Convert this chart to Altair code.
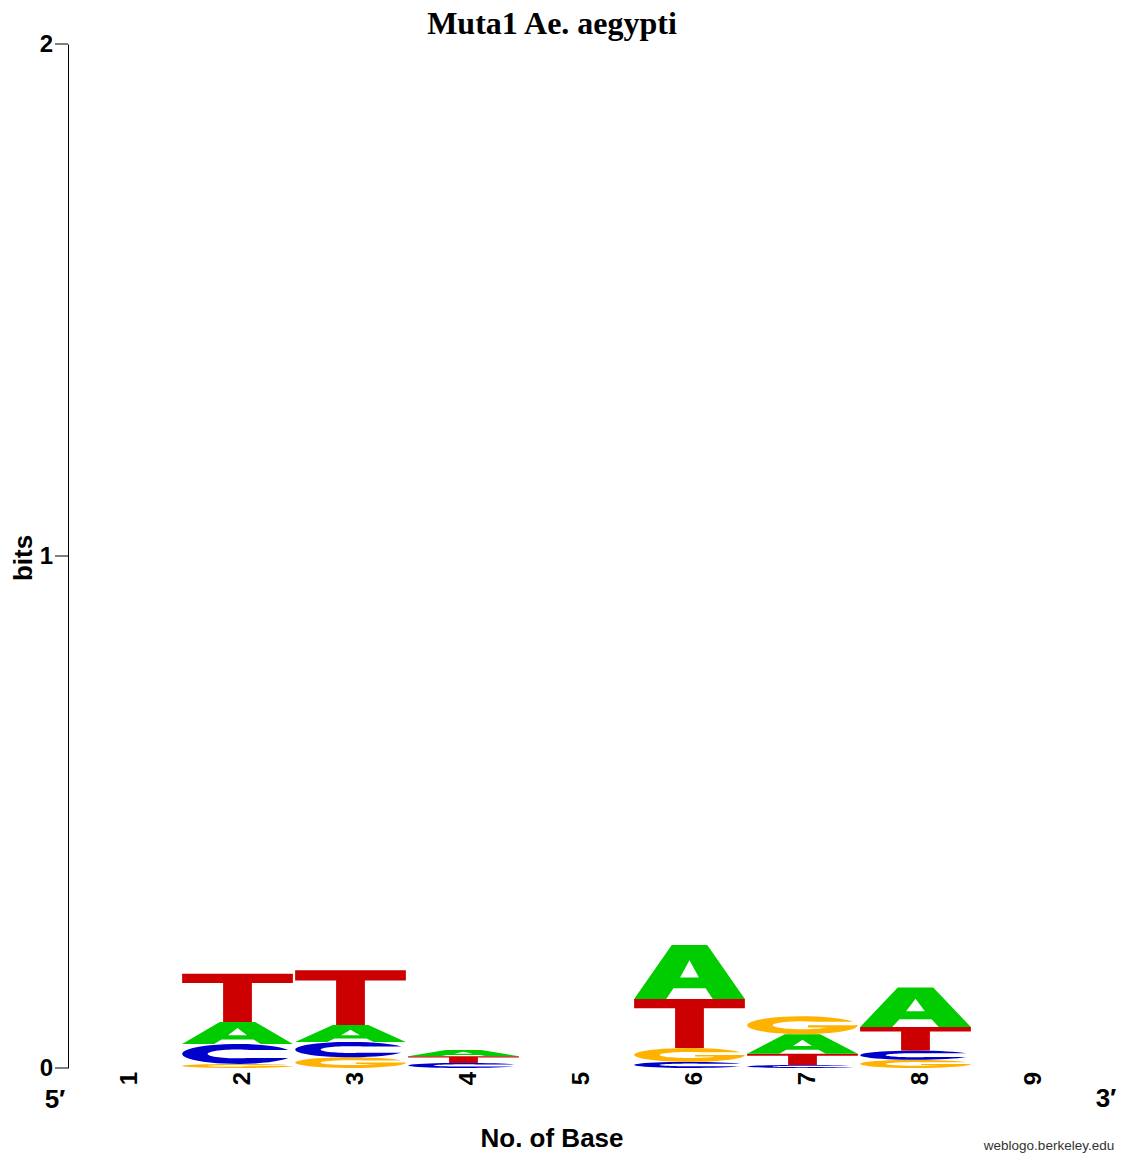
import numpy as np
import pandas as pd
import altair as alt

positions = [1, 2, 3, 4, 5, 6, 7, 8, 9]
# letters of each column, stacked bottom -> top
stack_letters = [
    [],
    ["G", "C", "A", "T"],
    ["G", "C", "A", "T"],
    ["C", "T", "A"],
    [],
    ["C", "G", "T", "A"],
    ["C", "T", "A", "G"],
    ["G", "C", "T", "A"],
    [],
]
# height of each letter in bits, same order
stack_bits = [
    [],
    [0.008, 0.039, 0.043, 0.094],
    [0.021, 0.030, 0.033, 0.107],
    [0.010, 0.013, 0.012],
    [],
    [0.012, 0.027, 0.096, 0.105],
    [0.006, 0.022, 0.038, 0.035],
    [0.016, 0.018, 0.046, 0.077],
    [],
]
letters = ["A", "C", "G", "T"]
letter_colors = ["#00CC00", "#0000CC", "#FFB300", "#CC0000"]
y_ticks = [0, 1, 2]
title_text = "Muta1 Ae. aegypti"
x_title = "No. of Base"
y_title = "bits"
end5 = "5\u2032"
end3 = "3\u2032"
credit = "weblogo.berkeley.edu"

# ---------------- glyph outlines in a unit box ----------------
def arc(rx, ry, a0, a1, n=40):
    t = np.radians(np.linspace(a0, a1, n))
    return list(zip(0.5 + rx * np.cos(t), 0.5 + ry * np.sin(t)))

ORX, ORY, IRX, IRY = 0.5, 0.5, 0.27, 0.22
cut = 0.20  # terminal cut offset from centre
a_out = np.degrees(np.arcsin(cut / ORY))
a_in = np.degrees(np.arcsin(min(cut / IRY, 0.999)))

C_poly = arc(ORX, ORY, a_out, 360 - a_out) + arc(IRX, IRY, 360 - a_in, a_in)
g_in = 360 - np.degrees(np.arcsin(0.12 / IRY))
G_poly = (arc(ORX, ORY, a_out, 360)
          + [(0.55, 0.5), (0.55, 0.38)]
          + arc(IRX, IRY, g_in, a_in))
T_poly = [(0, 1), (1, 1), (1, 0.81), (0.63, 0.81), (0.63, 0), (0.37, 0), (0.37, 0.81), (0, 0.81)]
A_poly = [(0, 0), (0.34, 1), (0.66, 1), (1, 0), (0.71, 0), (0.645, 0.2), (0.355, 0.2), (0.29, 0)]

GLYPHS = {"A": [A_poly], "C": [C_poly], "G": [G_poly], "T": [T_poly]}
HOLES = {"A": [[(0.415, 0.40), (0.585, 0.40), (0.5, 0.72)]]}

rows, hole_rows = [], []
gid = 0
W = 0.98
for pos, lets, bits in zip(positions, stack_letters, stack_bits):
    base = 0.0
    for L, h in zip(lets, bits):
        x0 = pos - W / 2
        for pi, poly in enumerate(GLYPHS[L]):
            for k, (gx, gy) in enumerate(poly):
                rows.append(dict(id=f"{gid}_{pi}", letter=L, k=k,
                                 x=x0 + gx * W, y=base + gy * h))
        for pi, poly in enumerate(HOLES.get(L, [])):
            for k, (gx, gy) in enumerate(poly):
                hole_rows.append(dict(id=f"{gid}_h{pi}", k=k,
                                      x=x0 + gx * W, y=base + gy * h))
        base += h
        gid += 1

df = pd.DataFrame(rows)
holes = pd.DataFrame(hole_rows)
pos_df = pd.DataFrame({"pos": positions, "lab": [str(p) for p in positions]})
ytick_df = pd.DataFrame({"v": y_ticks, "lab": [str(v) for v in y_ticks]})

SANS = "Liberation Sans"
x_scale = alt.Scale(domain=[0.5, 9.5], nice=False, zero=False)
y_scale = alt.Scale(domain=[0, 2], nice=False, zero=False)

x_axis = alt.Axis(values=positions, title=None, labels=False,
                  domain=False, ticks=False, grid=False)
y_axis = alt.Axis(title=None, grid=False, labels=False, ticks=False,
                  domain=True, domainColor="black", domainWidth=1)

letters_layer = alt.Chart(df).mark_line(filled=True, strokeWidth=0).encode(
    x=alt.X("x:Q", scale=x_scale, axis=x_axis),
    y=alt.Y("y:Q", scale=y_scale, axis=y_axis),
    color=alt.Color("letter:N", scale=alt.Scale(domain=letters, range=letter_colors), legend=None),
    detail="id:N",
    order="k:Q",
)

holes_layer = alt.Chart(holes).mark_line(filled=True, strokeWidth=0, color="white").encode(
    x=alt.X("x:Q", scale=x_scale, axis=x_axis),
    y=alt.Y("y:Q", scale=y_scale, axis=y_axis),
    detail="id:N",
    order="k:Q",
)

# rotated position labels under each column
pos_labels = alt.Chart(pos_df).mark_text(
    font=SANS, fontSize=24, fontWeight="bold", color="black",
    angle=270, align="right", baseline="middle", dy=5
).encode(
    x=alt.X("pos:Q", scale=x_scale, axis=x_axis),
    y=alt.value(1028),
    text="lab:N",
)

# y ticks and tick labels
ytick_marks = alt.Chart(ytick_df).mark_rule(color="black", strokeWidth=1).encode(
    y=alt.Y("v:Q", scale=y_scale, axis=y_axis),
    x=alt.value(-13), x2=alt.value(0),
)
ytick_labels = alt.Chart(ytick_df).mark_text(
    font=SANS, fontSize=24, fontWeight="bold", color="black",
    align="right", baseline="middle", dy=1
).encode(
    y=alt.Y("v:Q", scale=y_scale, axis=y_axis),
    x=alt.value(-15),
    text="lab:N",
)


def note(text, x, y, size, font=SANS, weight="bold", color="black",
         align="center", angle=0, baseline="alphabetic"):
    return alt.Chart(pd.DataFrame({"t": [text]})).mark_text(
        font=font, fontSize=size, fontWeight=weight, color=color,
        align=align, baseline=baseline, angle=angle
    ).encode(text="t:N", x=alt.value(x), y=alt.value(y))


chart = alt.layer(
    letters_layer,
    holes_layer,
    pos_labels,
    ytick_marks,
    ytick_labels,
    note(y_title, -36, 514, 26, angle=270),
    note(title_text, 484, -10, 32, font="Liberation Serif"),
    note(x_title, 484, 1103, 26),
    note(end5, -13, 1064, 26),
    note(end3, 1038, 1063, 26),
    note(credit, 981, 1106, 13.5, weight="normal", color="#333333"),
).properties(
    width=1017, height=1024,
    padding={"left": 60, "top": 36, "right": 32, "bottom": 89},
    autosize="none",
    background="white",
).configure_view(strokeWidth=0, stroke="transparent")

chart.save("out.html", embed_options={"renderer": "svg", "actions": False})
